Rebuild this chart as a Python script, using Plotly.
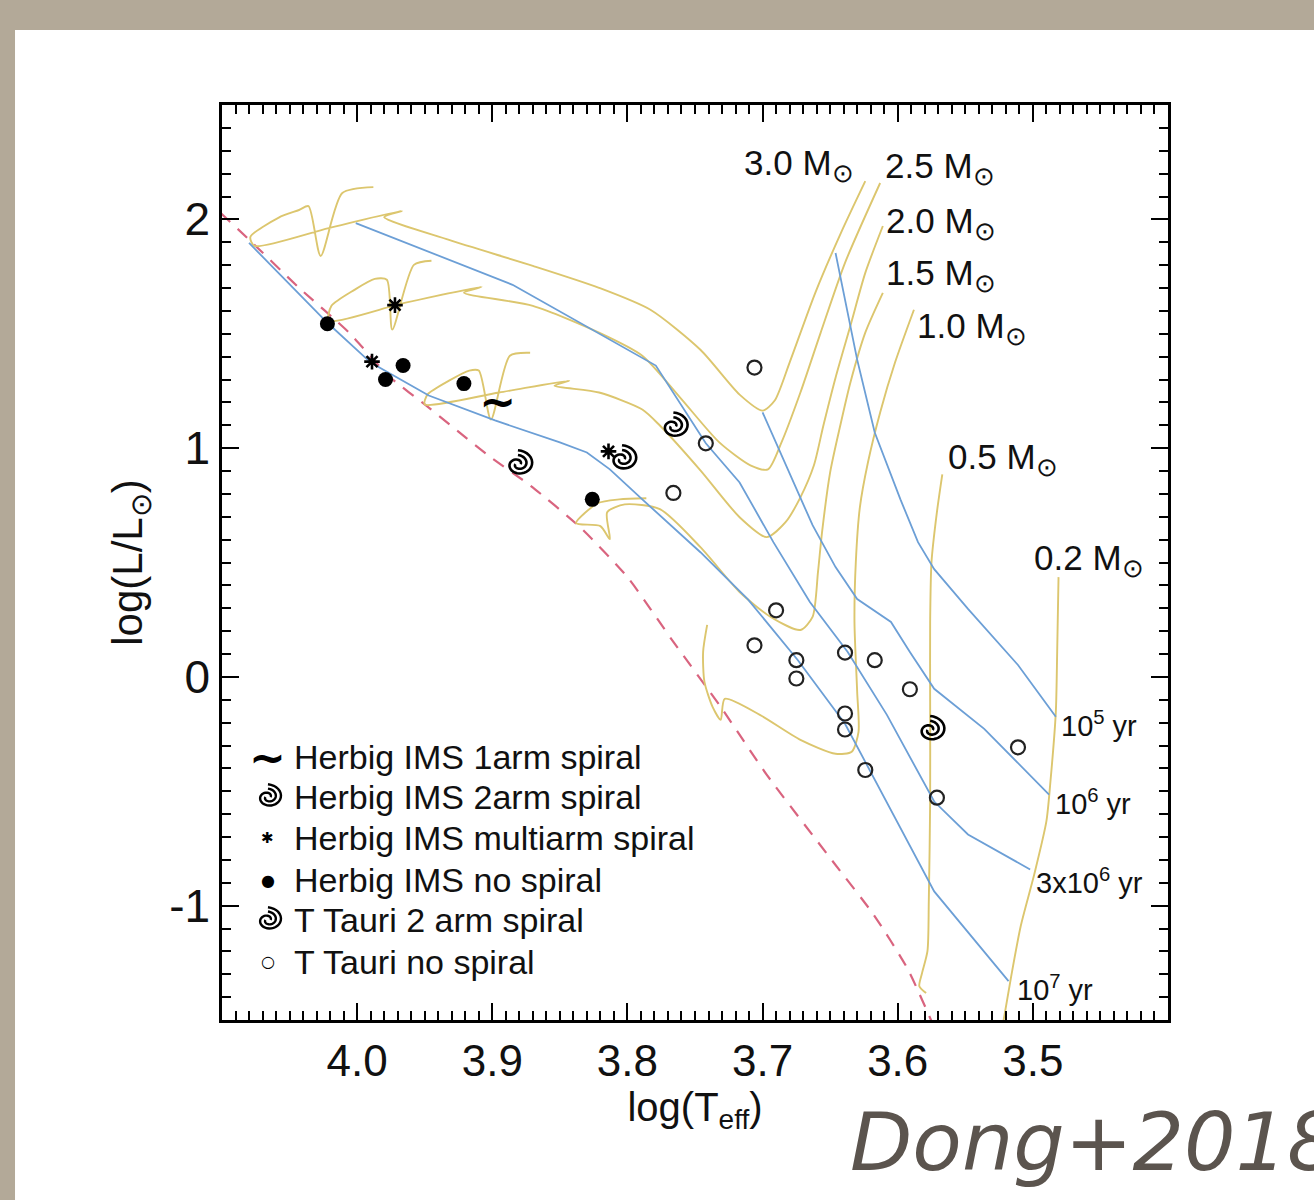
import numpy as np
import plotly.graph_objects as go

# ---------------- data (log Teff, log L/Lsun) ----------------
zams_logt = [4.101, 4.079, 4.043, 4.006, 3.977, 3.947, 3.903, 3.872, 3.835, 3.800, 3.766, 3.731, 3.697, 3.648, 3.618, 3.593, 3.575]
zams_logl = [2.028, 1.906, 1.701, 1.505, 1.317, 1.177, 0.968, 0.837, 0.654, 0.436, 0.153, -0.131, -0.427, -0.807, -1.038, -1.273, -1.505]

iso_1e5_logt = [3.646, 3.630, 3.617, 3.598, 3.585, 3.573, 3.548, 3.511, 3.483]
iso_1e5_logl = [1.853, 1.387, 1.068, 0.776, 0.589, 0.471, 0.297, 0.052, -0.174]
iso_1e6_logt = [3.700, 3.677, 3.663, 3.646, 3.630, 3.605, 3.591, 3.573, 3.536, 3.488]
iso_1e6_logl = [1.156, 0.850, 0.663, 0.480, 0.340, 0.240, 0.109, -0.052, -0.227, -0.515]
iso_3e6_logt = [4.001, 3.885, 3.779, 3.742, 3.717, 3.692, 3.665, 3.637, 3.608, 3.573, 3.548, 3.502]
iso_3e6_logl = [1.984, 1.714, 1.361, 1.021, 0.850, 0.589, 0.327, 0.109, -0.166, -0.545, -0.689, -0.842]
iso_1e7_logt = [4.080, 4.022, 3.990, 3.947, 3.898, 3.850, 3.830, 3.813, 3.789, 3.746, 3.711, 3.674, 3.639, 3.622, 3.573, 3.518]
iso_1e7_logl = [1.897, 1.548, 1.374, 1.230, 1.121, 1.025, 0.981, 0.907, 0.776, 0.545, 0.340, 0.074, -0.205, -0.393, -0.938, -1.330]

trk_30_logt = [3.988, 4.011, 4.027, 4.036, 4.043, 4.058, 4.079, 4.076, 4.021, 3.967, 3.980, 3.932, 3.870, 3.821, 3.783, 3.746, 3.717, 3.700, 3.691, 3.680, 3.661, 3.642, 3.624]
trk_30_logl = [2.141, 2.115, 1.840, 2.058, 2.041, 2.008, 1.923, 1.884, 1.962, 2.037, 2.010, 1.910, 1.797, 1.701, 1.605, 1.430, 1.234, 1.164, 1.208, 1.374, 1.679, 1.941, 2.167]
trk_25_logt = [3.945, 3.958, 3.974, 3.978, 3.987, 4.002, 4.019, 4.021, 3.965, 3.908, 3.921, 3.870, 3.821, 3.789, 3.761, 3.732, 3.709, 3.696, 3.686, 3.672, 3.657, 3.639, 3.613]
trk_25_logl = [1.819, 1.801, 1.518, 1.736, 1.740, 1.692, 1.622, 1.557, 1.635, 1.705, 1.679, 1.622, 1.505, 1.404, 1.221, 1.025, 0.925, 0.907, 1.025, 1.243, 1.505, 1.810, 2.159]
trk_20_logt = [3.872, 3.887, 3.901, 3.910, 3.917, 3.932, 3.948, 3.950, 3.895, 3.843, 3.854, 3.821, 3.789, 3.776, 3.746, 3.717, 3.697, 3.683, 3.672, 3.662, 3.655, 3.646, 3.635, 3.624, 3.611]
trk_20_logl = [1.417, 1.404, 1.125, 1.339, 1.339, 1.295, 1.234, 1.191, 1.243, 1.295, 1.273, 1.243, 1.169, 1.099, 0.903, 0.698, 0.611, 0.676, 0.785, 0.925, 1.099, 1.308, 1.535, 1.766, 1.971]
trk_15_logt = [3.786, 3.806, 3.822, 3.838, 3.820, 3.813, 3.815, 3.802, 3.776, 3.746, 3.717, 3.694, 3.672, 3.663, 3.659, 3.656, 3.650, 3.642, 3.635, 3.624, 3.611]
trk_15_logl = [0.781, 0.776, 0.759, 0.672, 0.659, 0.602, 0.720, 0.754, 0.733, 0.567, 0.371, 0.262, 0.205, 0.262, 0.458, 0.632, 0.894, 1.112, 1.287, 1.505, 1.679]
trk_10_logt = [3.741, 3.744, 3.743, 3.737, 3.731, 3.728, 3.702, 3.672, 3.646, 3.634, 3.629, 3.630, 3.632, 3.631, 3.628, 3.622, 3.613, 3.602, 3.588]
trk_10_logl = [0.227, 0.109, -0.022, -0.131, -0.188, -0.096, -0.166, -0.275, -0.336, -0.327, -0.240, -0.065, 0.240, 0.502, 0.741, 0.938, 1.156, 1.374, 1.605]
trk_05_logt = [3.567, 3.571, 3.575, 3.576, 3.576, 3.576, 3.577, 3.578, 3.582, 3.584, 3.579]
trk_05_logl = [0.885, 0.720, 0.502, 0.240, -0.109, -0.545, -0.981, -1.199, -1.295, -1.352, -1.382]
trk_02_logt = [3.481, 3.482, 3.483, 3.487, 3.490, 3.499, 3.509, 3.516, 3.522]
trk_02_logl = [0.436, 0.109, -0.153, -0.458, -0.632, -0.864, -1.090, -1.308, -1.513]

herbig_none_logt = [4.022, 3.979, 3.966, 3.921, 3.826]
herbig_none_logl = [1.544, 1.300, 1.361, 1.282, 0.776]
herbig_multi_logt = [3.972, 3.989, 3.814]
herbig_multi_logl = [1.625, 1.378, 0.986]
herbig_1arm_logt = [3.896]
herbig_1arm_logl = [1.185]
herbig_2arm_logt = [3.881, 3.804, 3.766]
herbig_2arm_logl = [0.930, 0.952, 1.095]
ttauri_2arm_logt = [3.576]
ttauri_2arm_logl = [-0.232]
ttauri_none_logt = [3.706, 3.742, 3.766, 3.690, 3.706, 3.675, 3.675, 3.639, 3.617, 3.591, 3.639, 3.639, 3.624, 3.511, 3.571]
ttauri_none_logl = [1.352, 1.021, 0.804, 0.291, 0.138, 0.073, -0.007, 0.106, 0.073, -0.054, -0.160, -0.230, -0.407, -0.308, -0.528]

SUN = "<sub><span style=\"font-size:26px\">⊙</span></sub>"
mass_labels = ["3.0 M" + SUN, "2.5 M" + SUN, "2.0 M" + SUN, "1.5 M" + SUN,
               "1.0 M" + SUN, "0.5 M" + SUN, "0.2 M" + SUN]
age_labels = ["10<sup>5</sup> yr", "10<sup>6</sup> yr", "3x10<sup>6</sup> yr", "10<sup>7</sup> yr"]
legend_labels = ["Herbig IMS 1arm spiral", "Herbig IMS 2arm spiral", "Herbig IMS multiarm spiral",
                 "Herbig IMS no spiral", "T Tauri 2 arm spiral", "T Tauri no spiral"]
x_tickvals = [4.0, 3.9, 3.8, 3.7, 3.6, 3.5]
x_ticktext = ["4.0", "3.9", "3.8", "3.7", "3.6", "3.5"]
y_tickvals = [-1, 0, 1, 2]
y_ticktext = ["-1", "0", "1", "2"]

# ---------------- styles ----------------
YEL = "#dcc66e"
BLUE = "#6c9fd6"
PINK = "#d9647f"
FONT = "Liberation Sans, Arial, Helvetica, sans-serif"

fig = go.Figure()

tracks = [(trk_30_logt, trk_30_logl), (trk_25_logt, trk_25_logl), (trk_20_logt, trk_20_logl),
          (trk_15_logt, trk_15_logl), (trk_10_logt, trk_10_logl), (trk_05_logt, trk_05_logl),
          (trk_02_logt, trk_02_logl)]
isos = [(iso_1e5_logt, iso_1e5_logl), (iso_1e6_logt, iso_1e6_logl),
        (iso_3e6_logt, iso_3e6_logl), (iso_1e7_logt, iso_1e7_logl)]

fig.add_trace(go.Scatter(x=zams_logt, y=zams_logl, mode="lines",
                         line=dict(color=PINK, width=2.2, dash="13px,10px", shape="spline", smoothing=0.6),
                         hoverinfo="skip"))
for tx, ty in tracks:
    fig.add_trace(go.Scatter(x=tx, y=ty, mode="lines",
                             line=dict(color=YEL, width=1.9, shape="spline", smoothing=0.7),
                             hoverinfo="skip"))
for ix, iy in isos:
    fig.add_trace(go.Scatter(x=ix, y=iy, mode="lines", line=dict(color=BLUE, width=1.8), hoverinfo="skip"))

fig.add_trace(go.Scatter(x=herbig_none_logt, y=herbig_none_logl, mode="markers",
                         marker=dict(symbol="circle", size=15, color="black"), name=legend_labels[3]))
fig.add_trace(go.Scatter(x=ttauri_none_logt, y=ttauri_none_logl, mode="markers",
                         marker=dict(symbol="circle-open", size=14, color="#222", line=dict(width=2.2)),
                         name=legend_labels[5]))
fig.add_trace(go.Scatter(x=herbig_multi_logt, y=herbig_multi_logl, mode="markers",
                         marker=dict(symbol="asterisk-open", size=13, color="black", line=dict(width=2.6, color="black")),
                         name=legend_labels[2]))
fig.add_trace(go.Scatter(x=herbig_1arm_logt, y=herbig_1arm_logl, mode="text", text=["~"],
                         textfont=dict(family="DejaVu Sans", size=44, color="black", weight="bold"),
                         name=legend_labels[0]))
# invisible anchors for the spiral symbols (glyphs drawn as pixel-sized shapes)
fig.add_trace(go.Scatter(x=herbig_2arm_logt, y=herbig_2arm_logl, mode="markers",
                         marker=dict(size=24, opacity=0), name=legend_labels[1]))
fig.add_trace(go.Scatter(x=ttauri_2arm_logt, y=ttauri_2arm_logl, mode="markers",
                         marker=dict(size=24, opacity=0), name=legend_labels[4]))


def spiral_path(rmax=17.0):
    segs = []
    for phase, turns in ((0.0, 1.25), (np.pi, 0.75)):
        t = np.linspace(0, turns * 2 * np.pi, 40)
        r = 2.5 + (rmax - 2.5) * t / (1.25 * 2 * np.pi)
        xs = r * np.cos(t + phase)
        ys = r * np.sin(t + phase) * 0.82
        segs.append("M" + " L".join(f"{a:.2f},{b:.2f}" for a, b in zip(xs, ys)))
    return " ".join(segs)


SP = spiral_path()
shapes = []
# white page panel over the beige background
shapes.append(dict(type="rect", xref="paper", yref="paper", x0=-0.2188, x1=1.16, y0=-0.21, y1=1.082,
                   fillcolor="white", line=dict(width=0), layer="below"))
for sx, sy in zip(herbig_2arm_logt + ttauri_2arm_logt, herbig_2arm_logl + ttauri_2arm_logl):
    shapes.append(dict(type="path", xref="x", yref="y", xsizemode="pixel", ysizemode="pixel",
                       xanchor=sx, yanchor=sy, path=SP, line=dict(color="black", width=2.6)))

# ---------------- annotations ----------------
ann = []
mass_pos = [(3.715, 2.235), (3.611, 2.222), (3.610, 1.982), (3.610, 1.755), (3.587, 1.525), (3.564, 0.95), (3.501, 0.51)]
for (ax, ay), txt in zip(mass_pos, mass_labels):
    ann.append(dict(x=ax, y=ay, xref="x", yref="y", text=txt, showarrow=False, xanchor="left",
                    yanchor="middle", font=dict(family=FONT, size=35, color="#111")))
age_pos = [(3.481, -0.205), (3.485, -0.545), (3.499, -0.894), (3.513, -1.361)]
for (ax, ay), txt in zip(age_pos, age_labels):
    ann.append(dict(x=ax, y=ay, xref="x", yref="y", text=txt, showarrow=False, xanchor="left",
                    yanchor="middle", font=dict(family=FONT, size=29, color="#111")))

# legend block (inside plot, lower-left)
leg_rows = [0.2874, 0.2437, 0.1989, 0.1530, 0.1093, 0.0634]
leg_sym = ["~", None, "✱", "●", None, "○"]
leg_sym_size = [44, 0, 15, 16, 0, 16]
for row, txt, sym, ssz in zip(leg_rows, legend_labels, leg_sym, leg_sym_size):
    ann.append(dict(x=0.074, y=row, xref="paper", yref="paper", text=txt, showarrow=False,
                    xanchor="left", yanchor="middle", font=dict(family=FONT, size=34, color="#111")))
    if sym is not None:
        ann.append(dict(x=0.0486, y=row, xref="paper", yref="paper", text=sym, showarrow=False,
                        xanchor="center", yanchor="middle",
                        font=dict(family="DejaVu Sans", size=ssz, color="black",
                                  weight="bold" if sym == "~" else "normal")))
    else:
        shapes.append(dict(type="path", xref="paper", yref="paper", xsizemode="pixel", ysizemode="pixel",
                           xanchor=0.0486, yanchor=row, path=spiral_path(15.5),
                           line=dict(color="black", width=2.4)))

ann.append(dict(x=0.6617, y=-0.1333, xref="paper", yref="paper", text="Dong+2018", showarrow=False,
                xanchor="left", yanchor="middle",
                font=dict(family="DejaVu Sans", size=81, color="#5b544e", style="italic")))

axis_common = dict(showline=True, linewidth=2.5, linecolor="black", mirror="allticks",
                   ticks="inside", ticklen=17, tickwidth=2, tickcolor="black",
                   showgrid=False, zeroline=False)

fig.update_layout(
    width=1314, height=1200,
    margin=dict(l=222, r=146, t=105, b=180),
    paper_bgcolor="#b3a998", plot_bgcolor="white",
    showlegend=False,
    shapes=shapes, annotations=ann,
    xaxis=dict(range=[4.1, 3.4], tickmode="array", tickvals=x_tickvals, ticktext=x_ticktext,
               tickfont=dict(family=FONT, size=44, color="#111"), ticklabelstandoff=0,
               minor=dict(dtick=0.01, tick0=0, ticks="inside", ticklen=9, tickwidth=1.5,
                          tickcolor="black", showgrid=False),
               title=dict(text="log(T<sub>eff</sub>)", font=dict(family=FONT, size=40, color="#111"),
                          standoff=4),
               **axis_common),
    yaxis=dict(range=[-1.5, 2.5], tickmode="array", tickvals=y_tickvals, ticktext=y_ticktext,
               tickfont=dict(family=FONT, size=46, color="#111"),
               minor=dict(dtick=0.1, tick0=0, ticks="inside", ticklen=9, tickwidth=1.5,
                          tickcolor="black", showgrid=False),
               title=dict(text="log(L/L<sub>⊙</sub>)", font=dict(family=FONT, size=42, color="#111"),
                          standoff=14),
               **axis_common),
)

fig.write_html("out.html")
